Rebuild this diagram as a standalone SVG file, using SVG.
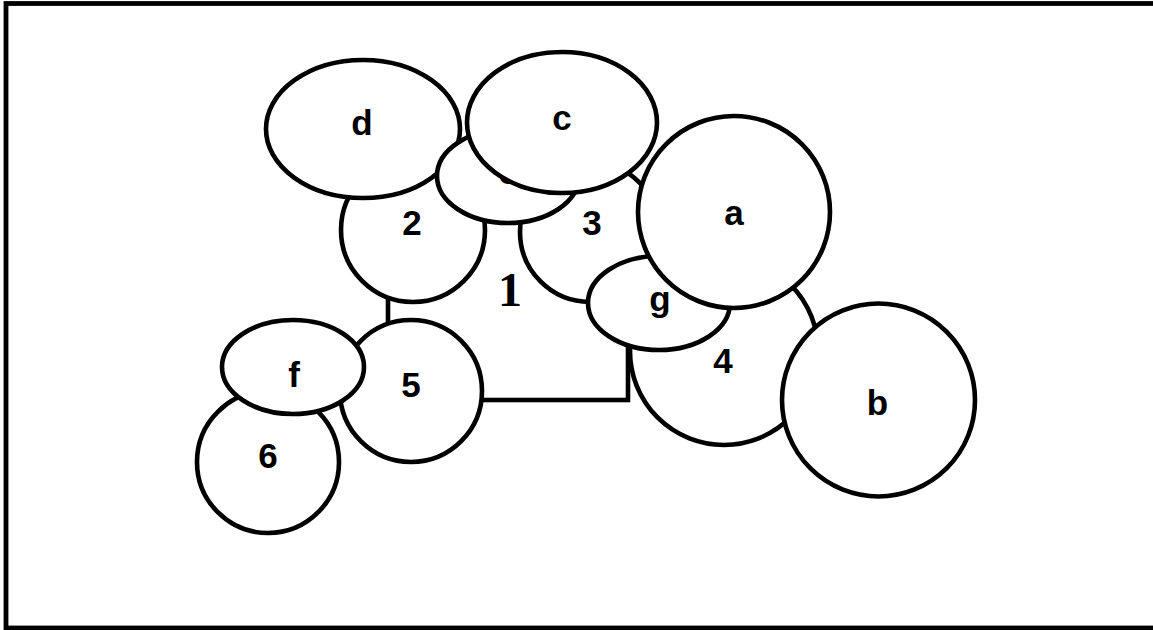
<svg xmlns="http://www.w3.org/2000/svg" width="1153" height="630" viewBox="0 0 1153 630">
<style>
.s{fill:#fff;stroke:#000;stroke-width:4.6}
.t{font-family:"Liberation Sans",Arial,sans-serif;font-weight:bold;font-size:35px;text-anchor:middle;fill:#000}
.n{font-family:"Liberation Serif","Times New Roman",serif;font-weight:bold;font-size:48px;text-anchor:middle;fill:#000}
</style>
<rect x="0" y="0" width="1153" height="630" fill="#fff"/>
<g id="frame"><rect x="6" y="3.5" width="1160" height="624.5" fill="none" stroke="#000" stroke-width="4.8"/></g>
<g id="node-1"><rect class="s" x="388" y="200" width="240" height="200"/><text class="n" x="510" y="306">1</text></g>
<g id="node-2"><circle class="s" cx="413" cy="230" r="72"/><text class="t" x="412" y="235">2</text></g>
<g id="node-3"><circle class="s" cx="590" cy="232" r="70"/><text class="t" x="592" y="235">3</text></g>
<g id="node-4"><circle class="s" cx="724" cy="351" r="94"/><text class="t" x="723" y="373">4</text></g>
<g id="node-d"><ellipse class="s" cx="363" cy="129" rx="97" ry="69"/><text class="t" x="362" y="135">d</text></g>
<g id="node-e"><ellipse class="s" cx="508" cy="176" rx="71" ry="47"/><text class="t" x="508" y="184">e</text></g>
<g id="node-c"><ellipse class="s" cx="562" cy="122.5" rx="95" ry="70.5"/><text class="t" x="562" y="130">c</text></g>
<g id="node-g"><ellipse class="s" cx="659" cy="303" rx="71" ry="47"/><text class="t" x="660" y="311">g</text></g>
<g id="node-a"><circle class="s" cx="734" cy="212" r="96"/><text class="t" x="734" y="225">a</text></g>
<g id="node-b"><circle class="s" cx="878.5" cy="400" r="96.5"/><text class="t" x="877.5" y="415">b</text></g>
<g id="node-6"><circle class="s" cx="268" cy="462" r="71"/><text class="t" x="268" y="468">6</text></g>
<g id="node-5"><circle class="s" cx="411" cy="391" r="71"/><text class="t" x="411" y="397">5</text></g>
<g id="node-f"><ellipse class="s" cx="293" cy="367" rx="71" ry="47"/><text class="t" x="294" y="387">f</text></g>
<g id="connectors"></g>
</svg>
